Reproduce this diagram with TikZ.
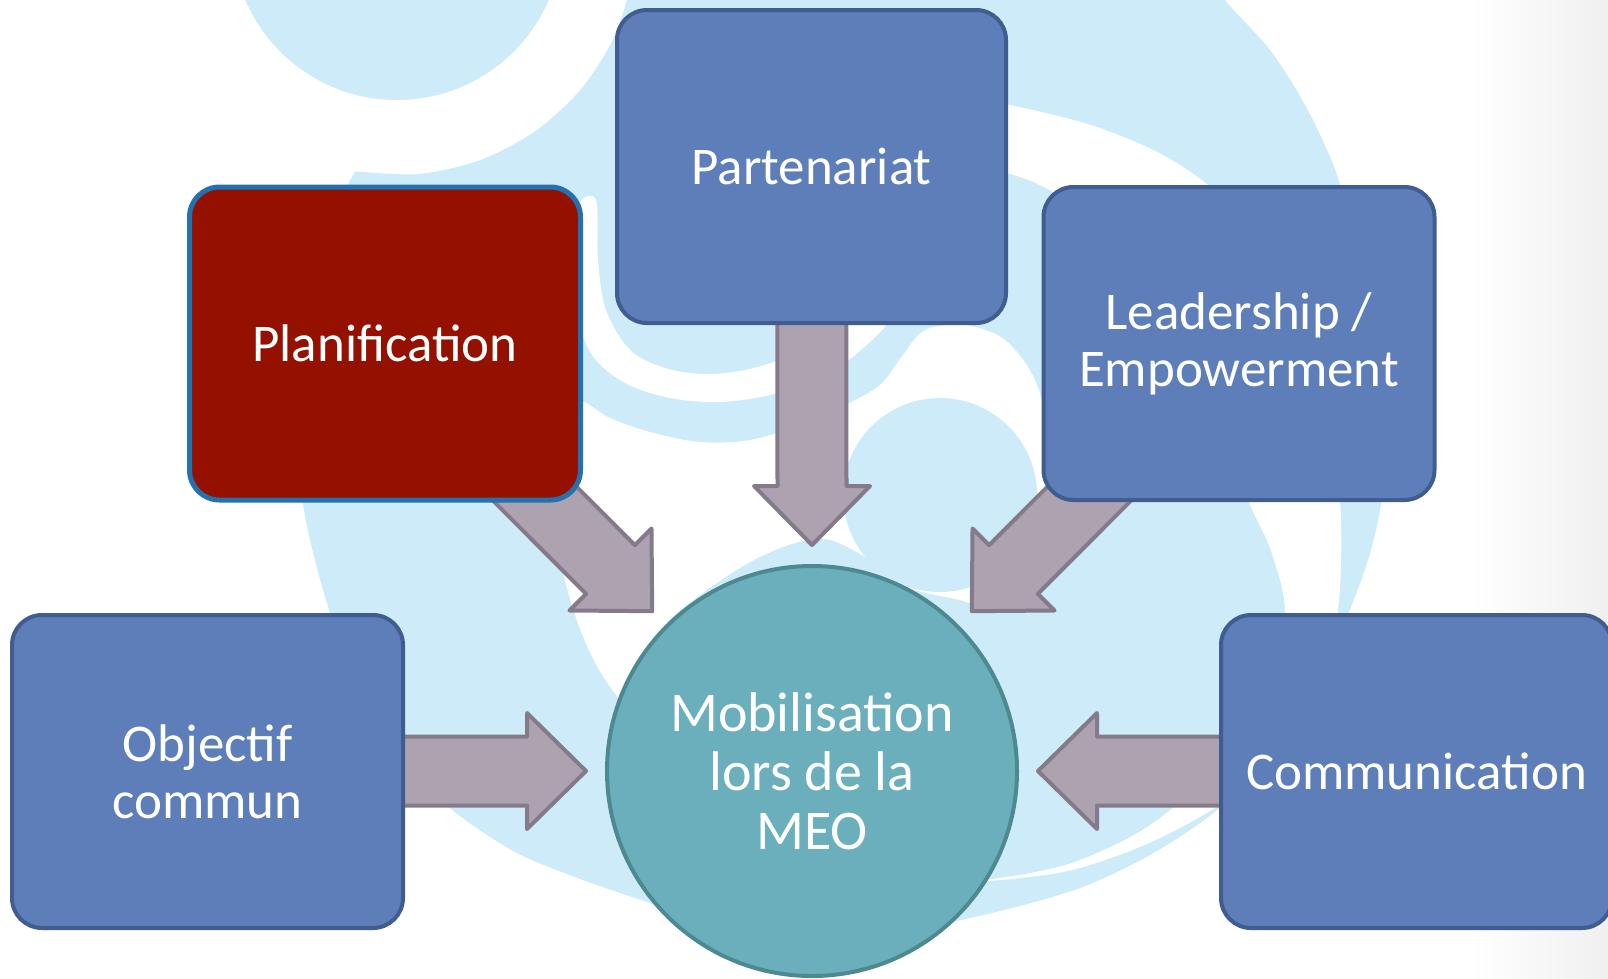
\documentclass[tikz,border=0pt]{standalone}
\usepackage{fontspec}
\setmainfont{Carlito}
\usetikzlibrary{calc}
\definecolor{bgblue}{RGB}{205,235,248}
\definecolor{boxfill}{RGB}{93,126,185}
\definecolor{boxline}{RGB}{65,92,143}
\definecolor{redfill}{RGB}{148,17,0}
\definecolor{redline}{RGB}{36,113,175}
\definecolor{circfill}{RGB}{107,175,188}
\definecolor{circline}{RGB}{77,137,145}
\definecolor{arrfill}{RGB}{173,162,176}
\definecolor{arrline}{RGB}{133,122,137}
\pgfdeclarelayer{bg}
\pgfdeclarelayer{arrows}
\pgfsetlayers{bg,arrows,main}
\newcommand\inarrow[2]{%
  \draw[arrstyle] ($(mc)+(#1:226)$) -- ($(mc)+(#1:285)+(#1+90:58)$)
    -- ($(mc)+(#1:285)+(#1+90:34.5)$) -- ($(#2)+(#1+90:34.5)$)
    -- ($(#2)+(#1-90:34.5)$) -- ($(mc)+(#1:285)+(#1-90:34.5)$)
    -- ($(mc)+(#1:285)+(#1-90:58)$) -- cycle;}
\begin{document}
\begin{tikzpicture}[x=1pt,y=-1pt,
  txt/.style={text=white, align=center, font=\fontsize{53}{57}\selectfont, inner sep=0pt},
  boxnode/.style={txt, draw=boxline, fill=boxfill, line width=4pt, rounded corners=30pt,
    minimum width=391pt, minimum height=313pt},
  arrstyle/.style={draw=arrline, fill=arrfill, line width=4pt, line join=round}]
\useasboundingbox (0,0) rectangle (1608,978);

\begin{pgfonlayer}{bg}
\fill[white] (0,0) rectangle (1608,978);
\shade[left color=white, right color=black!6] (1470,0) rectangle (1608,978);
% outer body of the spiral
\fill[bgblue]
 plot[smooth, tension=0.5] coordinates {(355.3,171.4) (417.9,174.1) (479.1,160.5)
   (534.7,131.6) (580.9,89.3) (614.5,36.4) (633.4,-23.3)}
 -- (640,-80) -- (1190,-80) --
 plot[smooth, tension=0.5] coordinates {(1200,-40) (1225,0) (1270,50) (1305,105)
   (1333,164) (1352,225) (1370,300) (1382,380) (1385,450) (1380,510) (1368,560)
   (1349,612) (1320,680) (1280,745) (1217,810) (1150,855) (1080,888) (1000,911)
   (924,927) (850,935) (770,930) (700,920) (650,903) (583,880) (517,853)
   (456,813) (405,765) (360,700) (330,613) (310,540) (300,480) (298,400)
   (305,320) (320,250) (340,200) (355.3,171.4)} -- cycle;
% white arc under Partenariat
\fill[white] plot[smooth cycle, tension=0.55] coordinates {
 (596,200) (598,260) (606,310) (630,350) (665,368) (705,374) (745,370)
 (785,358) (825,338) (860,305) (890,318) (855,355) (815,380) (770,395)
 (720,402) (670,398) (625,383) (592,355) (576,310) (572,255) (578,205)};
% white inner region
\fill[white] plot[smooth cycle, tension=0.55] coordinates {
 (572,398) (610,418) (650,432) (700,442) (750,440) (800,425) (845,405)
 (880,385) (903,355) (925,330) (965,325) (1005,340) (1035,380) (1050,440)
 (1052,510) (1040,580) (1005,612) (960,600) (910,588) (870,560) (830,540)
 (795,543) (750,562) (700,595) (662,628) (640,665) (628,705) (598,668)
 (575,615) (560,555) (558,495) (562,440)};
% white spiral band on the right
\fill[white] plot[smooth cycle, tension=0.55] coordinates {
 (950,95) (1010,105) (1100,128) (1180,165) (1250,225) (1300,320) (1330,430)
 (1341,520) (1335,630) (1300,720) (1240,790) (1160,838) (1080,868) (1020,878)
 (980,881) (1030,873) (1080,860) (1150,825) (1225,760) (1270,680) (1285,612)
 (1271,551) (1248,500) (1215,410) (1165,300) (1100,225) (1040,185) (980,165)
 (945,150)};
% inner blob and top-left blob
\fill[bgblue] (940,495) circle[radius=97];
\fill[bgblue] (397,-65) circle[radius=165];
\end{pgfonlayer}

\node[boxnode, minimum width=389pt] (part) at (811.5,166.5) {Partenariat};
\node[boxnode, fill=redfill, draw=redline, line width=5pt] (plan) at (385,343.5) {Planification};
\node[boxnode] (lead) at (1239,343.5) {Leadership /\\Empowerment};
\node[boxnode] (obj) at (207.5,771.5) {Objectif\\commun};
\node[boxnode] (comm) at (1416.5,771.5) {Communication};
\node[txt, font=\fontsize{56}{59}\selectfont, circle, draw=circline, fill=circfill,
  line width=4pt, minimum size=410pt] (mc) at (812,771) {Mobilisation\\lors de la\\MEO};

\begin{pgfonlayer}{arrows}
\inarrow{-90}{part}
\inarrow{225}{plan}
\inarrow{-45}{lead}
\inarrow{180}{obj}
\inarrow{0}{comm}
\end{pgfonlayer}
\end{tikzpicture}
\end{document}
